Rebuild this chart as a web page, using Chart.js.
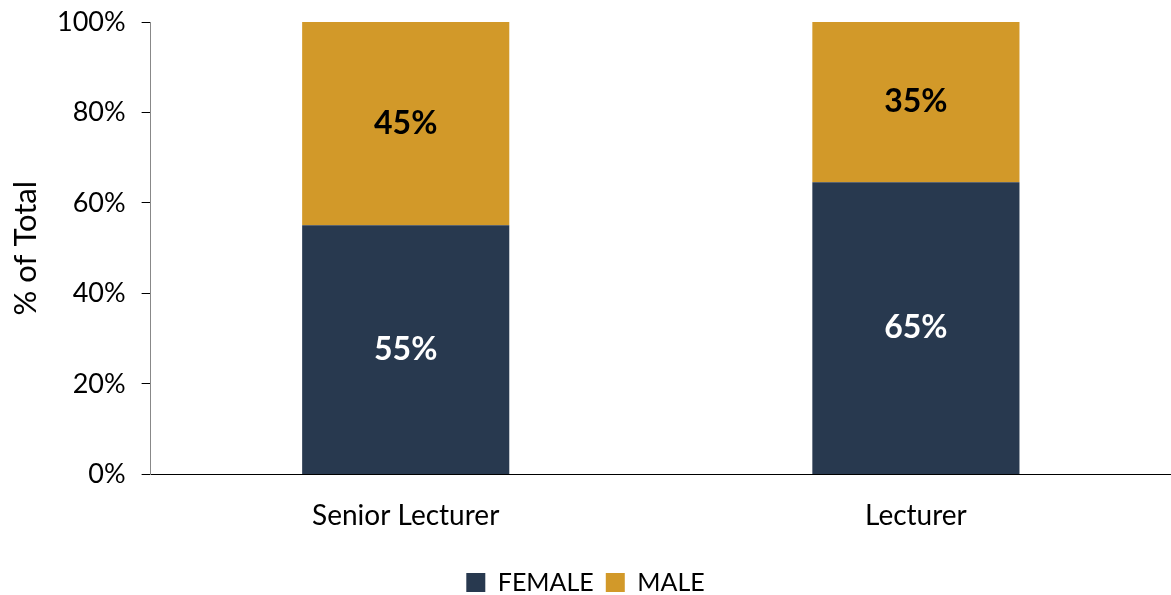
<!DOCTYPE html>
<html>
<head>
<meta charset="utf-8">
<script src="https://cdn.jsdelivr.net/npm/chart.js@4"></script>
<style>
  html, body { margin: 0; padding: 0; background: #fff; }
  #wrap { width: 1171px; height: 595px; }
</style>
</head>
<body>
<div id="wrap"><canvas id="genderChart" width="1171" height="595"></canvas></div>
<script>
// data
var categories = ['Senior Lecturer', 'Lecturer'];
var female = [55.1, 64.6];
var male = [44.9, 35.4];
var yTicks = [0, 20, 40, 60, 80, 100];

var FONT = 'Lato, "Open Sans", sans-serif';

// draws the % labels in the middle of each bar segment
var segLabels = {
  id: 'segLabels',
  afterDatasetsDraw: function(chart) {
    var ctx = chart.ctx;
    ctx.save();
    ctx.font = 'bold 32px ' + FONT;
    ctx.textAlign = 'center';
    ctx.textBaseline = 'middle';
    chart.data.datasets.forEach(function(ds, i) {
      var meta = chart.getDatasetMeta(i);
      meta.data.forEach(function(bar, j) {
        var mid = (bar.y + bar.base) / 2;
        ctx.fillStyle = ds.labelColor;
        ctx.fillText(Math.round(ds.data[j]) + '%', bar.x, mid);
      });
    });
    ctx.restore();
  }
};

var ctx = document.getElementById('genderChart').getContext('2d');
var myChart = new Chart(ctx, {
  type: 'bar',
  data: {
    labels: categories,
    datasets: [{
      label: 'FEMALE',
      data: female,
      backgroundColor: '#28394F',
      labelColor: '#ffffff',
      categoryPercentage: 1,
      barPercentage: 0.406
    }, {
      label: 'MALE',
      data: male,
      backgroundColor: '#D29929',
      labelColor: '#000000',
      categoryPercentage: 1,
      barPercentage: 0.406
    }]
  },
  options: {
    responsive: false,
    animation: false,
    layout: { padding: { top: 22, right: 0, left: 0, bottom: -10 } },
    plugins: {
      legend: {
        position: 'bottom',
        labels: {
          font: { family: FONT, size: 25 },
          color: '#000',
          boxWidth: 19,
          boxHeight: 19,
          padding: 12
        }
      },
      tooltip: { enabled: false }
    },
    scales: {
      x: {
        stacked: true,
        grid: { display: false, drawTicks: false },
        border: { display: true, color: '#000', width: 1 },
        ticks: { font: { family: FONT, size: 28 }, color: '#000', padding: 25 }
      },
      y: {
        stacked: true,
        min: 0,
        max: 100,
        afterBuildTicks: function(axis) {
          axis.ticks = yTicks.map(function(v) { return { value: v }; });
        },
        afterFit: function(axis) {
          axis.paddingTop = 0;
          axis.paddingBottom = 0;
        },
        grid: { drawOnChartArea: false, drawTicks: true, tickLength: 9, color: '#000' },
        border: { display: true, color: '#888', width: 1 },
        ticks: {
          font: { family: FONT, size: 27 },
          color: '#000',
          padding: 16,
          callback: function(v) { return v + '%'; }
        },
        title: {
          display: true,
          text: '% of Total',
          font: { family: FONT, size: 31, lineHeight: 1 },
          color: '#000',
          padding: { top: 10, bottom: 0 }
        }
      }
    }
  },
  plugins: [segLabels]
});
</script>
</body>
</html>
